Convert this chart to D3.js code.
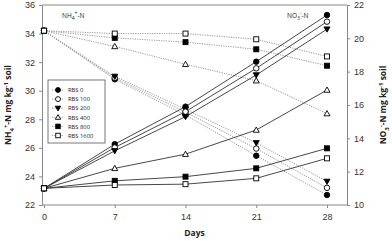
<!DOCTYPE html>
<html>
<head>
<meta charset="utf-8">
<script src="https://cdn.jsdelivr.net/npm/d3@7"></script>
<style>
  body { margin: 0; background: #fff; }
  svg { font-family: "Open Sans", "Liberation Sans", sans-serif; }
  .axis text { fill: #333; font-size: 9px; }
  .axis line, .axis path { stroke: #888; }
</style>
</head>
<body>
<div id="vis"></div>
<script>
// sampling days
const days = [0, 7, 14, 21, 28];
const treatments = ["RBS 0", "RBS 100", "RBS 200", "RBS 400", "RBS 800", "RBS 1600"];
const symbols = ["circleFill", "circleOpen", "triDownFill", "triUpOpen", "squareFill", "squareOpen"];

// NH4+-N (left axis, dotted)
const nh4 = [
  [34.2, 30.8, 28.3, 25.45, 22.7],
  [34.2, 30.9, 28.5, 25.95, 23.2],
  [34.2, 31.0, 28.7, 26.35, 23.65],
  [34.2, 33.1, 31.85, 30.7, 28.4],
  [34.2, 33.7, 33.4, 32.9, 31.75],
  [34.2, 34.0, 34.0, 33.6, 32.4]
];
// NO3--N (right axis, solid)
const no3 = [
  [11.0, 13.65, 15.9, 18.6, 21.4],
  [11.0, 13.45, 15.6, 18.2, 21.0],
  [11.0, 13.25, 15.3, 17.8, 20.55],
  [11.0, 12.2, 13.05, 14.5, 16.9],
  [11.0, 11.45, 11.7, 12.2, 13.4],
  [11.0, 11.2, 11.25, 11.6, 12.8]
];
const leftTicks = [22, 24, 26, 28, 30, 32, 34, 36];
const rightTicks = [10, 12, 14, 16, 18, 20, 22];

const ctx = { w: 392, h: 241, left: 42, right: 347, top: 5, bottom: 205 };

const x = d3.scaleLinear().domain([0, 28]).range([44, 327]);
const yL = d3.scaleLinear().domain([22, 36]).range([ctx.bottom, ctx.top]);
const yR = d3.scaleLinear().domain([10, 22]).range([ctx.bottom, ctx.top]);

const svg = d3.select("#vis").append("svg")
  .attr("width", ctx.w).attr("height", ctx.h);

// frame
svg.append("line").attr("x1", ctx.left).attr("x2", ctx.right)
  .attr("y1", ctx.top).attr("y2", ctx.top).attr("stroke", "#888");

// axes
svg.append("g").attr("class", "axis")
  .attr("transform", `translate(0,${ctx.bottom})`)
  .call(d3.axisBottom(x).tickValues(days).tickSize(3).tickPadding(6))
  .call(g => g.select(".domain").attr("d", `M${ctx.left},0H${ctx.right}`));

svg.append("g").attr("class", "axis")
  .attr("transform", `translate(${ctx.left},0)`)
  .call(d3.axisLeft(yL).tickValues(leftTicks).tickSize(3).tickSizeOuter(0).tickPadding(4));

svg.append("g").attr("class", "axis")
  .attr("transform", `translate(${ctx.right},0)`)
  .call(d3.axisRight(yR).tickValues(rightTicks).tickSize(3).tickSizeOuter(0).tickPadding(4));

// axis titles
svg.append("text").attr("x", (ctx.left + ctx.right) / 2).attr("y", 236)
  .attr("text-anchor", "middle").attr("font-size", 8.5).attr("font-weight", "bold")
  .attr("fill", "#222").text("Days");

function yTitle(tx, ion, sup) {
  const t = svg.append("text")
    .attr("transform", `translate(${tx},105) rotate(-90)`)
    .attr("text-anchor", "middle").attr("font-size", 8.5).attr("font-weight", "bold")
    .attr("fill", "#222");
  t.append("tspan").text(ion);
  t.append("tspan").attr("font-size", 6).attr("dy", 2.5).text(sup[0]);
  t.append("tspan").attr("font-size", 6).attr("dy", -6).text(sup[1]);
  t.append("tspan").attr("dy", 3.5).text("-N mg kg");
  t.append("tspan").attr("font-size", 6).attr("dy", -3.5).text("-1");
  t.append("tspan").attr("dy", 3.5).text(" soil");
}
yTitle(11, "NH", ["4", "+"]);
yTitle(386, "NO", ["3", "-"]);

// in-plot labels
function ionLabel(lx, ion, sub, sup) {
  const t = svg.append("text").attr("x", lx).attr("y", 18)
    .attr("font-size", 6.5).attr("fill", "#222");
  t.append("tspan").text(ion);
  t.append("tspan").attr("font-size", 5).attr("dy", 2).text(sub);
  t.append("tspan").attr("font-size", 5).attr("dy", -5).text(sup);
  t.append("tspan").attr("dy", 3).text("-N");
}
ionLabel(62, "NH", "4", "+");
ionLabel(287, "NO", "3", "-");

// marker drawing
function marker(g, kind, cx, cy, s) {
  const open = kind.endsWith("Open");
  const fill = open ? "#fff" : "#000";
  let shape;
  if (kind.startsWith("circle")) {
    shape = g.append("circle").attr("cx", cx).attr("cy", cy).attr("r", s * 0.55);
  } else if (kind.startsWith("square")) {
    shape = g.append("rect").attr("x", cx - s / 2).attr("y", cy - s / 2)
      .attr("width", s).attr("height", s);
  } else if (kind.startsWith("triUp")) {
    shape = g.append("path").attr("d",
      `M${cx},${cy - s * 0.6}L${cx + s * 0.6},${cy + s * 0.45}L${cx - s * 0.6},${cy + s * 0.45}Z`);
  } else {
    shape = g.append("path").attr("d",
      `M${cx},${cy + s * 0.6}L${cx + s * 0.6},${cy - s * 0.45}L${cx - s * 0.6},${cy - s * 0.45}Z`);
  }
  shape.attr("fill", fill).attr("stroke", "#000").attr("stroke-width", 0.9);
}

const lineL = d3.line().x((d, i) => x(days[i])).y(d => yL(d));
const lineR = d3.line().x((d, i) => x(days[i])).y(d => yR(d));

const plotG = svg.append("g");
nh4.forEach(vals => {
  plotG.append("path").attr("d", lineL(vals)).attr("fill", "none")
    .attr("stroke", "#999").attr("stroke-width", 1).attr("stroke-dasharray", "1.2,1.2");
});
no3.forEach(vals => {
  plotG.append("path").attr("d", lineR(vals)).attr("fill", "none")
    .attr("stroke", "#333").attr("stroke-width", 0.9);
});
nh4.forEach((vals, k) => vals.forEach((v, i) => marker(plotG, symbols[k], x(days[i]), yL(v), 5)));
no3.forEach((vals, k) => vals.forEach((v, i) => marker(plotG, symbols[k], x(days[i]), yR(v), 5)));

// legend
const lg = svg.append("g").attr("transform", "translate(48,80)");
lg.append("rect").attr("width", 57).attr("height", 63)
  .attr("fill", "#fff").attr("stroke", "#555").attr("stroke-width", 0.8);
treatments.forEach((t, k) => {
  const cy = 10 + k * 9.1;
  lg.append("line").attr("x1", 4).attr("x2", 16).attr("y1", cy).attr("y2", cy)
    .attr("stroke", "#999").attr("stroke-dasharray", "1.2,1.2");
  marker(lg, symbols[k], 10, cy, 4.5);
  lg.append("text").attr("x", 20).attr("y", cy + 2.2)
    .attr("font-size", 5.8).attr("fill", "#222").text(t);
});
</script>
</body>
</html>
